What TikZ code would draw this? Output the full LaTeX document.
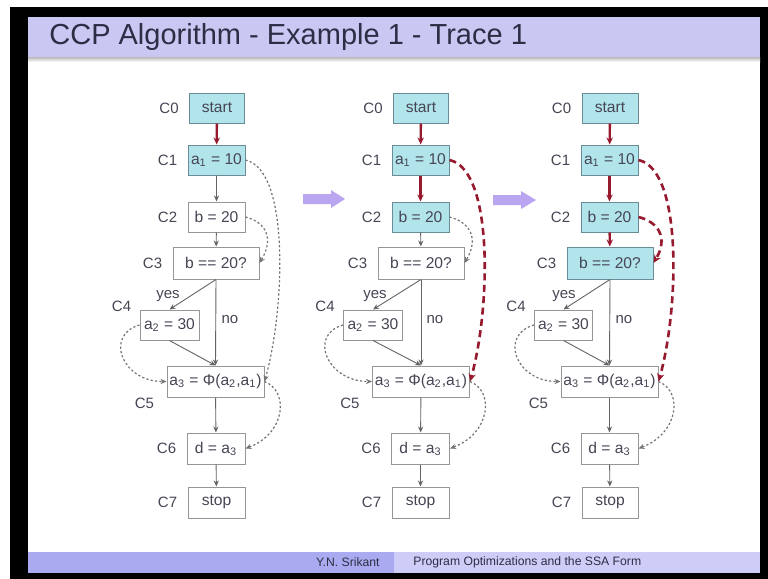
\documentclass[tikz,border=0pt]{standalone}
\usepackage{fontspec}
\setmainfont{Liberation Sans}
\usetikzlibrary{arrows.meta}
\definecolor{cyanfill}{RGB}{178,228,236}
\definecolor{cyanborder}{RGB}{105,140,150}
\definecolor{boxgray}{RGB}{150,150,150}
\definecolor{txt}{RGB}{70,70,85}
\definecolor{flowgray}{RGB}{100,100,100}
\definecolor{dugray}{RGB}{115,115,115}
\definecolor{darkred}{RGB}{150,25,45}
\definecolor{headbg}{RGB}{200,200,242}
\definecolor{footdark}{RGB}{170,170,240}
\definecolor{footlight}{RGB}{205,205,248}
\definecolor{purplearrow}{RGB}{185,165,240}
\definecolor{titlecol}{RGB}{45,45,70}
\newcommand\boxfont{\fontsize{7.8pt}{9pt}\selectfont}
\newcommand\lblfont{\fontsize{7.5pt}{9pt}\selectfont}
\newcommand\footfont{\fontsize{6.1pt}{7pt}\selectfont}
\newcommand\sbs[1]{\textsubscript{#1}}
\tikzset{
  box/.style={draw=boxgray, line width=0.5pt, fill=white, inner sep=0pt,
    minimum height=15pt, font=\boxfont, text=txt},
  act/.style={box, fill=cyanfill, draw=cyanborder},
  lbl/.style={font=\lblfont, text=txt, inner sep=1pt},
  flow/.style={-{Stealth[length=3pt,width=2.6pt]}, draw=flowgray, line width=0.45pt},
  redflow/.style={-{Stealth[length=3.5pt,width=3.2pt]}, draw=darkred, line width=1.2pt},
  du/.style={-{Stealth[length=3pt,width=2.6pt]}, draw=dugray, line width=0.6pt,
    dash pattern=on 1.1pt off 1.1pt},
  redu/.style={-{Stealth[length=4pt,width=3.6pt]}, draw=darkred, line width=1.3pt,
    dash pattern=on 3.5pt off 2.2pt},
}
\begin{document}
\begin{tikzpicture}[x=0.5pt,y=-0.5pt]
\useasboundingbox (0,0) rectangle (768,579);
\fill[white] (0,0) rectangle (768,579);
\fill[black] (10,7) rectangle (768,579);
\fill[white] (28,17) rectangle (760,573);
\fill[headbg] (28,17) rectangle (760,57);
\shade[top color=gray!55, bottom color=white] (28,57) rectangle (760,62);
\node[anchor=west, inner sep=0pt, text=titlecol, font=\fontsize{14.5pt}{17pt}\selectfont] (title) at (49,37) {CCP Algorithm - Example 1 - Trace 1};
\fill[footdark] (28,552) rectangle (394,573);
\fill[footlight] (394,552) rectangle (760,573);
\node[anchor=east, inner sep=0pt, text=titlecol, font=\footfont] (author) at (380,562.5) {Y.N. Srikant};
\node[anchor=west, inner sep=0pt, text=titlecol, font=\footfont] (ftitle) at (413,562.5) {Program Optimizations and the SSA Form};

% block arrows
\fill[purplearrow] (303,194) -- (331,194) -- (331,190) -- (345,199) -- (331,208) -- (331,204) -- (303,204) -- cycle;
\fill[purplearrow] (493,195) -- (521,195) -- (521,191) -- (536,200) -- (521,209) -- (521,205) -- (493,205) -- cycle;

% ---------------- column 1
\node[act, minimum width=27.5pt] (a0) at (217,108) {start};
\node[act, minimum width=28.5pt] (a1) at (216.5,160) {a\sbs{1} = 10};
\node[box, minimum width=28.5pt] (a2) at (216.5,217) {b = 20};
\node[box, minimum width=43pt, minimum height=16pt] (a3) at (216,263) {b == 20?};
\node[box, minimum width=29.5pt] (a4) at (169.5,325) {a\sbs{2} = 30};
\node[box, minimum width=48.5pt, minimum height=15.5pt] (a5) at (215.5,381.5) {a\sbs{3} = Φ(a\sbs{2},a\sbs{1})};
\node[box, minimum width=29pt, minimum height=15.5pt] (a6) at (216,448.5) {d = a\sbs{3}};
\node[box, minimum width=28.5pt, minimum height=15.5pt] (a7) at (216.5,502.5) {stop};
\foreach \n/\t in {0/C0,1/C1,2/C2,3/C3,6/C6,7/C7}
  \node[lbl, anchor=east] (la\n) at ([xshift=-4pt]a\n.west) {\t};
\node[lbl, anchor=east] (la4) at ([xshift=-3pt,yshift=1.5pt]a4.north west) {C4};
\node[lbl] (la5) at ([xshift=-11pt,yshift=-3pt]a5.south west) {C5};
\node[lbl] (ya) at ([xshift=-24pt,yshift=-8.5pt]a3.south) {yes};
\node[lbl] (na) at ([xshift=7pt,yshift=-20pt]a3.south) {no};
\draw[redflow] (a0) -- (a1);
\draw[flow] (a1) -- (a2);
\draw[flow] (a2) -- (a3);
\draw[flow] (a3.south) -- (a4.north);
\draw[flow] (a3.south) -- (a5.north);
\draw[flow] (a4.south) -- (a5.north);
\draw[flow] (a5) -- (a6);
\draw[flow] (a6) -- (a7);
\draw[du] (a1.east) .. controls +(45,10) and +(20,-70) .. (a5.east);
\draw[du] (a2.east) .. controls +(20,5) and +(15,-25) .. (a3.east);
\draw[du] (a4.west) .. controls +(-35,10) and +(-45,0) .. (a5.west);
\draw[du] (a5.east) .. controls +(25,10) and +(40,-15) .. (a6.east);

% ---------------- column 2
\begin{scope}[shift={(204,0)}]
\node[act, minimum width=27.5pt] (b0) at (217,108) {start};
\node[act, minimum width=28.5pt] (b1) at (216.5,160) {a\sbs{1} = 10};
\node[act, minimum width=28.5pt] (b2) at (216.5,217) {b = 20};
\node[box, minimum width=43pt, minimum height=16pt] (b3) at (217,263) {b == 20?};
\node[box, minimum width=29.5pt] (b4) at (169,325) {a\sbs{2} = 30};
\node[box, minimum width=48.5pt, minimum height=15.5pt] (b5) at (217,381.5) {a\sbs{3} = Φ(a\sbs{2},a\sbs{1})};
\node[box, minimum width=29pt, minimum height=15.5pt] (b6) at (216.5,448.5) {d = a\sbs{3}};
\node[box, minimum width=28.5pt, minimum height=15.5pt] (b7) at (216.5,502.5) {stop};
\end{scope}
\foreach \n/\t in {0/C0,1/C1,2/C2,3/C3,6/C6,7/C7}
  \node[lbl, anchor=east] (lb\n) at ([xshift=-4pt]b\n.west) {\t};
\node[lbl, anchor=east] (lb4) at ([xshift=-3pt,yshift=1.5pt]b4.north west) {C4};
\node[lbl] (lb5) at ([xshift=-11pt,yshift=-3pt]b5.south west) {C5};
\node[lbl] (yb) at ([xshift=-23pt,yshift=-8.5pt]b3.south) {yes};
\node[lbl] (nb) at ([xshift=7pt,yshift=-20pt]b3.south) {no};
\draw[redflow] (b0) -- (b1);
\draw[redflow] (b1) -- (b2);
\draw[flow] (b2) -- (b3);
\draw[flow] (b3.south) -- (b4.north);
\draw[flow] (b3.south) -- (b5.north);
\draw[flow] (b4.south) -- (b5.north);
\draw[flow] (b5) -- (b6);
\draw[flow] (b6) -- (b7);
\draw[redu] (b1.east) .. controls +(45,10) and +(20,-70) .. (b5.east);
\draw[du] (b2.east) .. controls +(20,5) and +(15,-25) .. (b3.east);
\draw[du] (b4.west) .. controls +(-35,10) and +(-45,0) .. (b5.west);
\draw[du] (b5.east) .. controls +(25,10) and +(40,-15) .. (b6.east);

% ---------------- column 3
\begin{scope}[shift={(393,0)}]
\node[act, minimum width=28pt] (c0) at (217,108) {start};
\node[act, minimum width=28.5pt] (c1) at (216.5,160) {a\sbs{1} = 10};
\node[act, minimum width=28.5pt] (c2) at (216.5,217) {b = 20};
\node[act, minimum width=43pt, minimum height=16pt] (c3) at (217,263) {b == 20?};
\node[box, minimum width=29pt] (c4) at (170.5,325) {a\sbs{2} = 30};
\node[box, minimum width=48.5pt, minimum height=15.5pt] (c5) at (216.5,381.5) {a\sbs{3} = Φ(a\sbs{2},a\sbs{1})};
\node[box, minimum width=28.5pt, minimum height=15.5pt] (c6) at (216.5,448.5) {d = a\sbs{3}};
\node[box, minimum width=28pt, minimum height=15.5pt] (c7) at (217,502.5) {stop};
\end{scope}
\foreach \n/\t in {0/C0,1/C1,2/C2,3/C3,6/C6,7/C7}
  \node[lbl, anchor=east] (lc\n) at ([xshift=-4pt]c\n.west) {\t};
\node[lbl, anchor=east] (lc4) at ([xshift=-3pt,yshift=1.5pt]c4.north west) {C4};
\node[lbl] (lc5) at ([xshift=-11pt,yshift=-3pt]c5.south west) {C5};
\node[lbl] (yc) at ([xshift=-23pt,yshift=-8.5pt]c3.south) {yes};
\node[lbl] (nc) at ([xshift=7pt,yshift=-20pt]c3.south) {no};
\draw[redflow] (c0) -- (c1);
\draw[redflow] (c1) -- (c2);
\draw[redflow] (c2) -- (c3);
\draw[flow] (c3.south) -- (c4.north);
\draw[flow] (c3.south) -- (c5.north);
\draw[flow] (c4.south) -- (c5.north);
\draw[flow] (c5) -- (c6);
\draw[flow] (c6) -- (c7);
\draw[redu] (c1.east) .. controls +(45,10) and +(20,-70) .. (c5.east);
\draw[redu] (c2.east) .. controls +(20,5) and +(15,-25) .. (c3.east);
\draw[du] (c4.west) .. controls +(-35,10) and +(-45,0) .. (c5.west);
\draw[du] (c5.east) .. controls +(25,10) and +(40,-15) .. (c6.east);
\end{tikzpicture}
\end{document}
